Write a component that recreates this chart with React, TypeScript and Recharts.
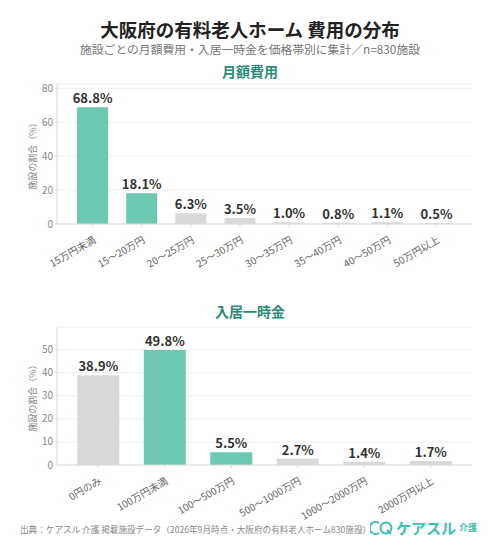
import React from 'react';
import { BarChart, Bar, XAxis, YAxis, CartesianGrid, Cell, LabelList } from 'recharts';

const monthlyCategories = ['15万円未満', '15〜20万円', '20〜25万円', '25〜30万円', '30〜35万円', '35〜40万円', '40〜50万円', '50万円以上'];
const monthlyValues = [68.8, 18.1, 6.3, 3.5, 1.0, 0.8, 1.1, 0.5];
const monthlyHighlight = [true, true, false, false, false, false, false, false];
const monthlyTicks = [0, 20, 40, 60, 80];

const entryCategories = ['0円のみ', '100万円未満', '100〜500万円', '500〜1000万円', '1000〜2000万円', '2000万円以上'];
const entryValues = [38.9, 49.8, 5.5, 2.7, 1.4, 1.7];
const entryHighlight = [false, true, true, false, false, false];
const entryTicks = [0, 10, 20, 30, 40, 50];

const TEAL = '#6dc8b1';
const GRAY = '#d9d9d9';
const FONT = '"Noto Sans CJK JP", "Noto Sans", sans-serif';

const monthlyData = monthlyCategories.map((c, i) => ({ name: c, value: monthlyValues[i], hi: monthlyHighlight[i] }));
const entryData = entryCategories.map((c, i) => ({ name: c, value: entryValues[i], hi: entryHighlight[i] }));

const RotTick = (props: any) => {
  const { x, y, payload } = props;
  return (
    <g transform={`translate(${x},${y + 6})`}>
      <text textAnchor="end" transform="rotate(-30)" fontSize={10} fill="#666" fontFamily={FONT} dy={8}>
        {payload.value}
      </text>
    </g>
  );
};

const ValLabel = (props: any) => {
  const { x, y, width, value } = props;
  return (
    <text x={x + width / 2} y={y - 4} textAnchor="middle" fontSize={13} fontWeight={700} fill="#333" fontFamily={FONT}>
      {Number(value).toFixed(1)}%
    </text>
  );
};

const Panel = ({ data, ticks, domainMax, height, top, plotH, pad }: any) => (
  <div style={{ position: 'absolute', left: 0, top }}>
    <BarChart width={500} height={height} data={data} margin={{ top: 4, right: 28, left: 0, bottom: 0 }} barCategoryGap="18.5%">
      <CartesianGrid vertical={false} stroke="#f0f0f0" />
      <XAxis
        dataKey="name"
        interval={0}
        tick={<RotTick />}
        height={height - 4 - plotH}
        stroke="#dddddd"
        tickSize={3}
        padding={{ left: pad, right: pad }}
      />
      <YAxis
        width={57}
        domain={[0, domainMax]}
        ticks={ticks}
        tick={{ fontSize: 10, fill: '#888', fontFamily: FONT }}
        stroke="#dddddd"
        tickSize={2}
        label={{ value: '施設の割合（%）', angle: -90, position: 'insideLeft', offset: 33, style: { fontSize: 9, fill: '#888', fontFamily: FONT, textAnchor: 'middle' } }}
      />
      <Bar dataKey="value" isAnimationActive={false}>
        {data.map((d: any, i: number) => (
          <Cell key={i} fill={d.hi ? TEAL : GRAY} />
        ))}
        <LabelList dataKey="value" content={<ValLabel />} />
      </Bar>
    </BarChart>
  </div>
);

export default function App() {
  return (
    <div style={{ position: 'absolute', left: 0, top: 0, width: 500, height: 558, background: '#fff', fontFamily: FONT, overflow: 'hidden' }}>
      <div style={{ position: 'absolute', top: 19, width: 500, textAlign: 'center', fontSize: 18.5, fontWeight: 700, color: '#222', lineHeight: '20px' }}>
        大阪府の有料老人ホーム 費用の分布
      </div>
      <div style={{ position: 'absolute', top: 42, width: 500, textAlign: 'center', fontSize: 11.8, color: '#777', lineHeight: '13px' }}>
        施設ごとの月額費用・入居一時金を価格帯別に集計／n=830施設
      </div>
      <div style={{ position: 'absolute', top: 62, width: 500, textAlign: 'center', fontSize: 14, fontWeight: 700, color: '#2a8c78', lineHeight: '18px' }}>
        月額費用
      </div>
      <Panel data={monthlyData} ticks={monthlyTicks} domainMax={82.56} height={200} top={80} plotH={140} pad={11} />
      <div style={{ position: 'absolute', top: 302, width: 500, textAlign: 'center', fontSize: 14, fontWeight: 700, color: '#2a8c78', lineHeight: '18px' }}>
        入居一時金
      </div>
      <Panel data={entryData} ticks={entryTicks} domainMax={59.76} height={212} top={323} plotH={138} pad={8} />
      <div style={{ position: 'absolute', top: 523, left: 20, fontSize: 8.6, color: '#888', lineHeight: '12px', whiteSpace: 'nowrap' }}>
        出典：ケアスル 介護 掲載施設データ（2026年9月時点・大阪府の有料老人ホーム830施設）
      </div>
      <div style={{ position: 'absolute', top: 518, left: 370, display: 'flex', alignItems: 'center', whiteSpace: 'nowrap' }}>
        <svg width={24} height={16}>
          <path d="M9 3 A6 6 0 1 0 9 13" fill="none" stroke="#3cc0b0" strokeWidth={2} />
          <circle cx={16} cy={8} r={5.5} fill="none" stroke="#3cc0b0" strokeWidth={2} />
          <path d="M17 10 L21 14" stroke="#3cc0b0" strokeWidth={2} />
        </svg>
        <span style={{ fontSize: 15, fontWeight: 700, color: '#3cc0b0', marginLeft: 2, lineHeight: '20px' }}>ケアスル</span>
        <span style={{ fontSize: 9, fontWeight: 700, color: '#3cc0b0', marginLeft: 3, lineHeight: '20px' }}>介護</span>
      </div>
    </div>
  );
}
